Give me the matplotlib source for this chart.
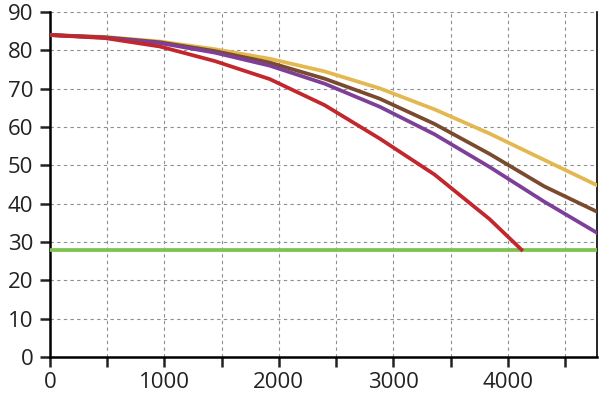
import matplotlib.pyplot as plt
from matplotlib.ticker import MultipleLocator, FuncFormatter

# Courbes
x_pts = [0, 480, 960, 1440, 1920, 2400, 2880, 3360, 3840, 4320, 4780]
jaune = [84, 83.5, 82.3, 80.3, 77.8, 74.5, 70.1, 64.6, 58.3, 51.4, 44.8]
marron = [84, 83.4, 82.1, 79.8, 76.8, 72.6, 67.4, 60.8, 53.0, 44.5, 37.9]
violet = [84, 83.3, 81.9, 79.4, 76.0, 71.3, 65.3, 58.1, 49.6, 40.5, 32.4]
x_rouge = [0, 480, 960, 1440, 1920, 2400, 2880, 3360, 3840, 4120]
rouge = [84, 83.2, 81.0, 77.2, 72.5, 65.7, 57.0, 47.6, 36.0, 28.0]
seuil = 28

plt.rcParams['font.family'] = ['Open Sans', 'DejaVu Sans']

fig = plt.figure(figsize=(6, 3.98), dpi=100)
ax = fig.add_axes([50/600, 1-357/398, 547/600, 345/398])

ax.axhline(seuil, color='#7DC24F', lw=2.7, zorder=3)
ax.plot(x_pts, jaune, color='#E3B850', lw=2.7, zorder=4)
ax.plot(x_pts, marron, color='#7A4A2E', lw=2.7, zorder=4)
ax.plot(x_pts, violet, color='#7D3F98', lw=2.7, zorder=4)
ax.plot(x_rouge, rouge, color='#C1272D', lw=2.7, zorder=5)

ax.set_xlim(0, 4780)
ax.set_ylim(0, 90)
ax.xaxis.set_major_locator(MultipleLocator(500))
ax.xaxis.set_major_formatter(FuncFormatter(lambda v, p: '%d' % v if v % 1000 == 0 else ''))
ax.yaxis.set_major_locator(MultipleLocator(10))

ax.grid(True, color='#8f8f8f', ls=(0, (3, 3)), lw=0.8)
ax.set_axisbelow(True)

ax.spines['top'].set_visible(False)
for s in ['left', 'bottom']:
    ax.spines[s].set_linewidth(1.8)
ax.spines['right'].set_linewidth(1.2)
ax.tick_params(axis='both', direction='out', length=7, width=1.8, labelsize=16, colors='#222222')
ax.tick_params(axis='x', pad=4)
ax.tick_params(axis='y', pad=5)

fig.savefig('out.png', dpi=100)
